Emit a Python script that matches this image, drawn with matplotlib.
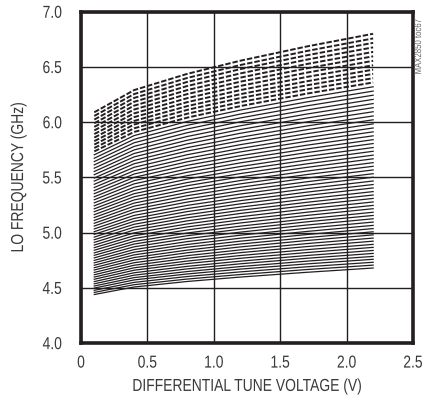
import matplotlib
matplotlib.use('Agg')
import numpy as np
import matplotlib.pyplot as plt
from matplotlib.path import Path
from matplotlib.patheffects import AbstractPathEffect
from matplotlib.transforms import Affine2D

# 調諧電壓取樣點 (V)
VOLTAGES = [0.1, 0.4, 0.8, 1.2, 1.7, 2.2]

# 64 條 VCO 子頻帶曲線 (GHz)，由下而上；最上面 12 條用虛線
SOLID_CURVES = [
    [4.440, 4.508, 4.558, 4.598, 4.641, 4.680],
    [4.459, 4.529, 4.580, 4.621, 4.666, 4.706],
    [4.478, 4.550, 4.603, 4.645, 4.691, 4.732],
    [4.498, 4.572, 4.626, 4.670, 4.717, 4.759],
    [4.517, 4.593, 4.648, 4.693, 4.742, 4.785],
    [4.537, 4.615, 4.672, 4.718, 4.768, 4.812],
    [4.557, 4.637, 4.695, 4.742, 4.793, 4.839],
    [4.578, 4.660, 4.720, 4.768, 4.820, 4.867],
    [4.598, 4.682, 4.743, 4.793, 4.846, 4.894],
    [4.619, 4.705, 4.768, 4.819, 4.874, 4.923],
    [4.640, 4.728, 4.792, 4.844, 4.901, 4.951],
    [4.662, 4.752, 4.818, 4.871, 4.929, 4.980],
    [4.683, 4.775, 4.842, 4.897, 4.955, 5.008],
    [4.705, 4.799, 4.868, 4.923, 4.983, 5.037],
    [4.727, 4.823, 4.893, 4.950, 5.011, 5.066],
    [4.749, 4.847, 4.919, 4.977, 5.040, 5.096],
    [4.772, 4.872, 4.946, 5.005, 5.069, 5.126],
    [4.795, 4.897, 4.972, 5.032, 5.098, 5.156],
    [4.817, 4.921, 4.997, 5.059, 5.125, 5.185],
    [4.841, 4.947, 5.025, 5.088, 5.156, 5.217],
    [4.864, 4.972, 5.052, 5.116, 5.185, 5.247],
    [4.888, 4.998, 5.079, 5.144, 5.215, 5.278],
    [4.912, 5.024, 5.107, 5.174, 5.246, 5.310],
    [4.936, 5.050, 5.135, 5.202, 5.275, 5.341],
    [4.960, 5.076, 5.162, 5.231, 5.305, 5.372],
    [4.985, 5.103, 5.191, 5.261, 5.337, 5.405],
    [5.009, 5.129, 5.218, 5.290, 5.367, 5.436],
    [5.034, 5.156, 5.247, 5.319, 5.398, 5.468],
    [5.060, 5.185, 5.277, 5.350, 5.430, 5.502],
    [5.085, 5.212, 5.305, 5.380, 5.461, 5.534],
    [5.111, 5.240, 5.335, 5.411, 5.494, 5.568],
    [5.137, 5.268, 5.364, 5.442, 5.526, 5.601],
    [5.163, 5.296, 5.394, 5.472, 5.558, 5.634],
    [5.190, 5.325, 5.425, 5.505, 5.591, 5.669],
    [5.216, 5.353, 5.454, 5.535, 5.623, 5.702],
    [5.243, 5.382, 5.485, 5.568, 5.657, 5.737],
    [5.270, 5.411, 5.516, 5.599, 5.690, 5.771],
    [5.298, 5.442, 5.547, 5.632, 5.725, 5.807],
    [5.325, 5.471, 5.578, 5.665, 5.758, 5.842],
    [5.353, 5.501, 5.610, 5.697, 5.792, 5.877],
    [5.381, 5.531, 5.642, 5.731, 5.827, 5.913],
    [5.409, 5.561, 5.673, 5.763, 5.861, 5.948],
    [5.438, 5.592, 5.706, 5.797, 5.896, 5.985],
    [5.467, 5.624, 5.739, 5.832, 5.932, 6.022],
    [5.495, 5.654, 5.770, 5.864, 5.966, 6.057],
    [5.525, 5.686, 5.804, 5.900, 6.003, 6.095],
    [5.554, 5.717, 5.837, 5.934, 6.038, 6.132],
    [5.584, 5.749, 5.871, 5.968, 6.074, 6.169],
    [5.614, 5.781, 5.905, 6.004, 6.111, 6.207],
    [5.644, 5.814, 5.939, 6.039, 6.148, 6.245],
    [5.674, 5.846, 5.972, 6.074, 6.184, 6.282],
    [5.705, 5.879, 6.007, 6.110, 6.221, 6.321],
]

DASHED_CURVES = [
    [5.736, 5.912, 6.042, 6.146, 6.259, 6.360],
    [5.767, 5.945, 6.077, 6.182, 6.297, 6.399],
    [5.798, 5.979, 6.112, 6.219, 6.334, 6.438],
    [5.829, 6.012, 6.146, 6.254, 6.371, 6.476],
    [5.861, 6.046, 6.182, 6.291, 6.410, 6.516],
    [5.893, 6.080, 6.218, 6.329, 6.449, 6.556],
    [5.926, 6.115, 6.255, 6.367, 6.488, 6.597],
    [5.958, 6.150, 6.291, 6.404, 6.527, 6.637],
    [5.991, 6.185, 6.328, 6.442, 6.567, 6.678],
    [6.024, 6.220, 6.365, 6.481, 6.606, 6.719],
    [6.057, 6.255, 6.401, 6.518, 6.645, 6.759],
    [6.090, 6.291, 6.438, 6.557, 6.686, 6.801],
]

X_TICKS = [0, 0.5, 1.0, 1.5, 2.0, 2.5]
X_TICK_LABELS = ['0', '0.5', '1.0', '1.5', '2.0', '2.5']
Y_TICKS = [4.0, 4.5, 5.0, 5.5, 6.0, 6.5, 7.0]
Y_TICK_LABELS = ['4.0', '4.5', '5.0', '5.5', '6.0', '6.5', '7.0']

INK = '#231f20'
TEXT = '#3a3a3a'

plt.rcParams['font.family'] = ['Liberation Sans', 'DejaVu Sans']


class Squeeze(AbstractPathEffect):
    # 沒有窄體字型，只好把文字路徑水平壓縮
    def __init__(self, sx=0.8):
        super().__init__()
        self.sx = sx

    def draw_path(self, renderer, gc, tpath, affine, rgbFace=None):
        verts = tpath.vertices
        if tpath.codes is not None:
            verts = verts[tpath.codes != Path.CLOSEPOLY]
        cx = (verts[:, 0].min() + verts[:, 0].max()) / 2.0 if len(verts) else 0.0
        squeeze = Affine2D().translate(-cx, 0).scale(self.sx, 1).translate(cx, 0)
        renderer.draw_path(gc, tpath, squeeze + affine, rgbFace)


fig = plt.figure(figsize=(4.24, 4.07), dpi=100)
ax = fig.add_axes([0.191, 0.157, 0.783, 0.814])

for curve in SOLID_CURVES:
    ax.plot(VOLTAGES, curve, color=INK, linewidth=0.9)
for curve in DASHED_CURVES:
    ax.plot(VOLTAGES, curve, color=INK, linewidth=1.4, linestyle=(0, (2.8, 1.0)))

ax.set_xlim(0, 2.5)
ax.set_ylim(4.0, 7.0)
ax.set_xticks(X_TICKS)
ax.set_xticklabels(X_TICK_LABELS)
ax.set_yticks(Y_TICKS)
ax.set_yticklabels(Y_TICK_LABELS)
ax.tick_params(axis='both', length=0, labelsize=12.5, labelcolor=TEXT)
ax.tick_params(axis='x', pad=9)
ax.tick_params(axis='y', pad=12)
ax.grid(True, color=INK, linewidth=1.0)
ax.set_axisbelow(True)

for sp in ax.spines.values():
    sp.set_linewidth(2.6)
    sp.set_color(INK)

xl = ax.set_xlabel('DIFFERENTIAL TUNE VOLTAGE (V)', fontsize=12.5, color=TEXT, labelpad=6)
yl = ax.set_ylabel('LO FREQUENCY (GHz)', fontsize=12.5, color=TEXT, labelpad=10)

for t in ax.get_xticklabels() + ax.get_yticklabels() + [xl, yl]:
    t.set_path_effects([Squeeze(0.8)])

note = fig.text(0.986, 0.97, 'MAX2850 toc67', rotation=90, ha='center', va='top',
                fontsize=7, color='#6a6a6a')
note.set_path_effects([Squeeze(0.8)])

fig.savefig('out.png', dpi=100)
